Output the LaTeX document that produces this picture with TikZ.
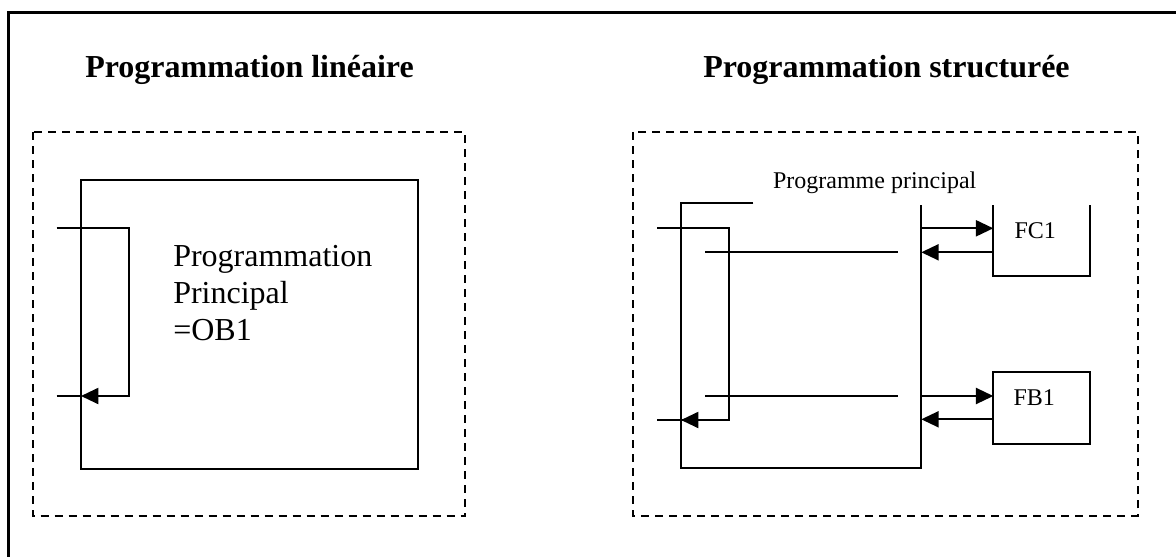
\documentclass[tikz,border=0pt]{standalone}
\usepackage{fontspec}
\setmainfont{Liberation Serif}
\usetikzlibrary{arrows.meta}
\begin{document}
\begin{tikzpicture}[x=0.75pt,y=-0.75pt,
  frame/.style={line width=2pt},
  wire/.style={line width=1.5pt},
  zone/.style={line width=1.5pt, dash pattern=on 6pt off 4.5pt},
  flow/.style={wire,-{Triangle[length=13pt,width=12pt]}},
  title/.style={font=\fontsize{24}{28}\selectfont\bfseries, inner sep=0pt, anchor=base west},
  big/.style={font=\fontsize{24}{28}\selectfont, inner sep=0pt, anchor=base west},
  small/.style={font=\fontsize{18}{21}\selectfont, inner sep=0pt, anchor=base west}]
\useasboundingbox (0,0) rectangle (1176,556);

% outer frame (open to the right and bottom)
\coordinate (fTR) at (1185,12.3);
\coordinate (fTL) at (8.7,12.3);
\coordinate (fBL) at (8.7,565);
\draw[frame] (fTR) -- (fTL) -- (fBL);

% titles
\node[title] (tLin) at (85,77.7) {Programmation linéaire};
\node[title] (tStr) at (703,77.7) {Programmation structurée};

% ---------- linear programming ----------
\coordinate (zL1) at (32.7,132);
\coordinate (zL2) at (465.3,516);
\draw[zone] (zL1) rectangle (zL2);

\coordinate (ob1) at (81,180);
\coordinate (ob2) at (417.7,468.7);
\draw[wire] (ob1) rectangle (ob2);
\node[big] (obText1) at (173,266) {Programmation};
\node[big] (obText2) at (173,303) {Principal};
\node[big] (obText3) at (173,340.5) {=OB1};

\coordinate (la) at (56.7,228.3);
\coordinate (lb) at (129.3,228.3);
\coordinate (lc) at (129.3,396);
\coordinate (ld) at (81,396);
\coordinate (le) at (56.7,396);
\draw[flow] (la) -- (lb) -- (lc) -- (ld);
\draw[wire] (le) -- (ld);

% ---------- structured programming ----------
\coordinate (zR1) at (633.3,132);
\coordinate (zR2) at (1137.7,516);
\draw[zone] (zR1) rectangle (zR2);

\node[small] (mainText) at (772.8,188.3) {Programme principal};

% main program block
\coordinate (m1) at (753.3,203.3);
\coordinate (m2) at (681,203.3);
\coordinate (m3) at (681,467.7);
\coordinate (m4) at (921.3,467.7);
\coordinate (m5) at (921.3,205);
\draw[wire] (m1) -- (m2) -- (m3) -- (m4) -- (m5);

% cycle loop
\coordinate (ra) at (657.3,228.3);
\coordinate (rb) at (729.3,228.3);
\coordinate (rc) at (729.3,420);
\coordinate (rd) at (681,420);
\coordinate (re) at (657.3,420);
\coordinate (rf) at (705.3,420);
\draw[flow] (ra) -- (rb) -- (rc) -- (rd);
\draw[wire] (re) -- (rf);

% block calls
\coordinate (c1a) at (705.3,251.7);
\coordinate (c1b) at (897.7,251.7);
\coordinate (c2a) at (705.3,396);
\coordinate (c2b) at (897.7,396);
\draw[wire] (c1a) -- (c1b);
\draw[wire] (c2a) -- (c2b);

% FC1 (open top)
\coordinate (fc1) at (993.3,205);
\coordinate (fc2) at (993.3,276);
\coordinate (fc3) at (1090,276);
\coordinate (fc4) at (1090,205);
\draw[wire] (fc1) -- (fc2) -- (fc3) -- (fc4);
\node[small] (fcText) at (1014.3,238.3) {FC1};

\coordinate (aFCo1) at (921.3,228.3);
\coordinate (aFCo2) at (993.3,228.3);
\coordinate (aFCi1) at (993.3,252.3);
\coordinate (aFCi2) at (921.3,252.3);
\draw[flow] (aFCo1) -- (aFCo2);
\draw[flow] (aFCi1) -- (aFCi2);

% FB1
\coordinate (fb1) at (993.3,371.7);
\coordinate (fb2) at (1090,444);
\draw[wire] (fb1) rectangle (fb2);
\node[small] (fbText) at (1013.3,405.3) {FB1};

\coordinate (aFBo1) at (921.3,396);
\coordinate (aFBo2) at (993.3,396);
\coordinate (aFBi1) at (993.3,419.3);
\coordinate (aFBi2) at (921.3,419.3);
\draw[flow] (aFBo1) -- (aFBo2);
\draw[flow] (aFBi1) -- (aFBi2);
\end{tikzpicture}
\end{document}
